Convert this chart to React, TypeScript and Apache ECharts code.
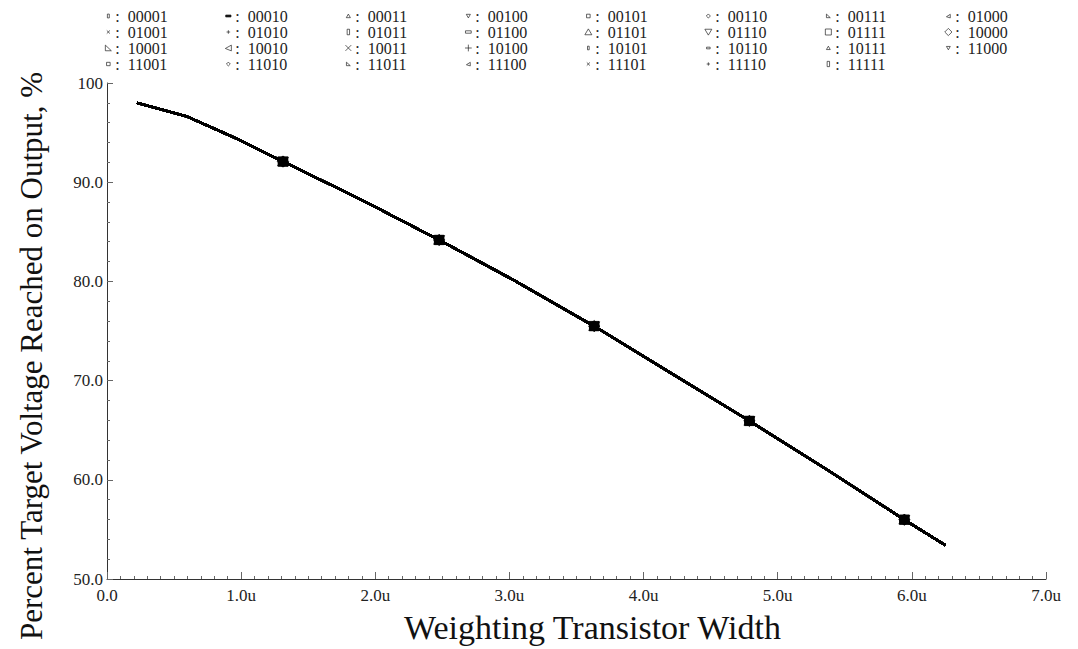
import React, { useEffect, useRef } from "react";
import * as echarts from "echarts";

// Series codes (legend entries)
const codes = [
  "00001", "00010", "00011", "00100", "00101", "00110", "00111", "01000",
  "01001", "01010", "01011", "01100", "01101", "01110", "01111", "10000",
  "10001", "10010", "10011", "10100", "10101", "10110", "10111", "11000",
  "11001", "11010", "11011", "11100", "11101", "11110", "11111",
];

// Curve (all series overlap almost exactly)
const widthX = [0.224, 0.6, 0.9, 1.01, 1.312, 1.9, 2.476, 3.05, 3.632, 4.2, 4.789, 5.37, 5.944, 6.25];
const percentY = [98.0, 96.6, 94.8, 94.1, 92.08, 88.2, 84.18, 80.0, 75.49, 70.8, 65.94, 61.0, 55.98, 53.4];
const isMarker = [false, false, false, false, true, false, true, false, true, false, true, false, true, false];

// Axis tick labels
const xTickLabels = ["0.0", "1.0u", "2.0u", "3.0u", "4.0u", "5.0u", "6.0u", "7.0u"];
const yTickLabels: Record<number, string> = { 50: "50.0", 60: "60.0", 70: "70.0", 80: "80.0", 90: "90.0", 100: "100" };

// Marker shapes (10x10 box, padded via corner moveTos)
const PAD = "M0 0M10 10";
const shapes: string[] = [
  "M4.2 3.4h1.6v3.2h-1.6z",
  "M2.8 4.2h4.4v1.6h-4.4z",
  "M5 3.4L6.7 6.4L3.3 6.4z",
  "M3.3 3.6L6.7 3.6L5 6.6z",
  "M3.5 3.5h3v3h-3z",
  "M5 3.3L6.7 5L5 6.7L3.3 5z",
  "M3.4 3.4L6.6 6.4L3.4 6.4z",
  "M3.4 5.6L6.6 3.6L6.6 6.6z",
  "M3.7 3.7L6.3 6.3M6.3 3.7L3.7 6.3",
  "M5 3.5V6.5M3.5 5H6.5",
  "M4 2.7h2v4.6h-2z",
  "M2.6 4h4.8v2h-4.8z",
  "M5 2.4L7.9 7.3L2.1 7.3z",
  "M2.1 2.7L7.9 2.7L5 7.6z",
  "M2.5 2.5h5v5h-5z",
  "M5 2L8 5L5 8L2 5z",
  "M2.5 2.6L7.5 7.3L2.5 7.3z",
  "M2.5 5.4L7.5 2.6L7.5 7.4z",
  "M2.6 2.6L7.4 7.4M7.4 2.6L2.6 7.4",
  "M5 2.2V7.8M2.2 5H7.8",
  "M4.3 3.5h1.4v3h-1.4z",
  "M3.5 4.3h3v1.4h-3z",
  "M5 3.5L6.6 6.3L3.4 6.3z",
  "M3.4 3.7L6.6 3.7L5 6.5z",
  "M3.5 3.6h3v2.8h-3z",
  "M5 3.4L6.6 5L5 6.6L3.4 5z",
  "M3.4 3.5L6.6 6.4L3.4 6.4z",
  "M3.4 5.6L6.6 3.6L6.6 6.6z",
  "M3.7 3.7L6.3 6.3M6.3 3.7L3.7 6.3",
  "M5 3.6V6.4M3.6 5H6.4",
  "M4 2.8h2v4.4h-2z",
];
const filledIcons = new Set(["00010"]);

const FONT = "'Liberation Serif', 'Times New Roman', serif";

export default function App() {
  const ref = useRef<HTMLDivElement>(null);
  useEffect(() => {
    if (!ref.current) return;
    const chart = echarts.init(ref.current, undefined, { renderer: "svg" });

    const series = codes.map((code, i) => ({
      name: code,
      type: "line",
      symbol: "path://" + PAD + shapes[i],
      symbolSize: 19,
      symbolKeepAspect: true,
      showSymbol: true,
      lineStyle: { color: "#000", width: 2.3 },
      itemStyle: { color: "#000", borderColor: "#000", borderWidth: 0.6 },
      emphasis: { disabled: true },
      data: widthX.map((x, k) =>
        isMarker[k] ? { value: [x, percentY[k]] } : { value: [x, percentY[k]], symbol: "none" }
      ),
      z: 2,
    }));

    const legends = [];
    for (let col = 0; col < 8; col++) {
      const items = [];
      for (let row = 0; row < 4; row++) {
        const idx = row * 8 + col;
        if (idx >= codes.length) continue;
        const code = codes[idx];
        items.push({
          name: code,
          icon: "path://" + PAD + shapes[idx],
          itemStyle: filledIcons.has(code)
            ? { color: "#111", borderColor: "#111", borderWidth: 0.7 }
            : { color: "#fff", borderColor: "#222", borderWidth: 0.7 },
        });
      }
      legends.push({
        data: items,
        orient: "vertical",
        left: 102 + col * 120,
        top: 8,
        itemWidth: 12,
        itemHeight: 12,
        itemGap: 0,
        padding: 0,
        selectedMode: false,
        symbolKeepAspect: true,
        formatter: (name: string) => ":\u2002" + name,
        textStyle: { fontFamily: FONT, fontSize: 16, lineHeight: 15, color: "#222", padding: [0, 0, 0, -4] },
      });
    }

    chart.setOption({
      animation: false,
      backgroundColor: "#fff",
      legend: legends,
      grid: { left: 107, right: 32, top: 83, bottom: 64, containLabel: false },
      xAxis: {
        type: "value",
        min: 0,
        max: 7,
        interval: 1,
        name: "Weighting Transistor Width",
        nameLocation: "middle",
        nameGap: 31,
        nameTextStyle: { fontFamily: FONT, fontSize: 34, color: "#111", padding: [0, 0, 0, 32] },
        axisLine: { show: true, lineStyle: { color: "#333", width: 1 } },
        axisTick: { show: true, inside: true, length: 7, lineStyle: { color: "#666" } },
        minorTick: { show: true, splitNumber: 10, length: 3, lineStyle: { color: "#666" } },
        splitLine: { show: false },
        axisLabel: {
          fontFamily: FONT,
          fontSize: 17,
          color: "#222",
          margin: 8,
          formatter: (v: number) => xTickLabels[Math.round(v)] ?? "",
        },
      },
      yAxis: {
        type: "value",
        min: 50,
        max: 100,
        interval: 10,
        name: "Percent Target Voltage Reached on Output, %",
        nameLocation: "middle",
        nameGap: 60,
        nameTextStyle: { fontFamily: FONT, fontSize: 31, color: "#111", padding: [0, 50, 0, 0] },
        axisLine: { show: true, lineStyle: { color: "#333", width: 1 } },
        axisTick: { show: true, inside: true, length: 6, lineStyle: { color: "#666" } },
        minorTick: { show: true, splitNumber: 5, length: 3, lineStyle: { color: "#666" } },
        splitLine: { show: false },
        axisLabel: {
          fontFamily: FONT,
          fontSize: 17,
          color: "#222",
          margin: 4,
          formatter: (v: number) => yTickLabels[Math.round(v)] ?? "",
        },
      },
      series,
    });
    return () => chart.dispose();
  }, []);
  return <div ref={ref} style={{ width: 1078, height: 649, position: "absolute", left: 0, top: 0 }} />;
}
